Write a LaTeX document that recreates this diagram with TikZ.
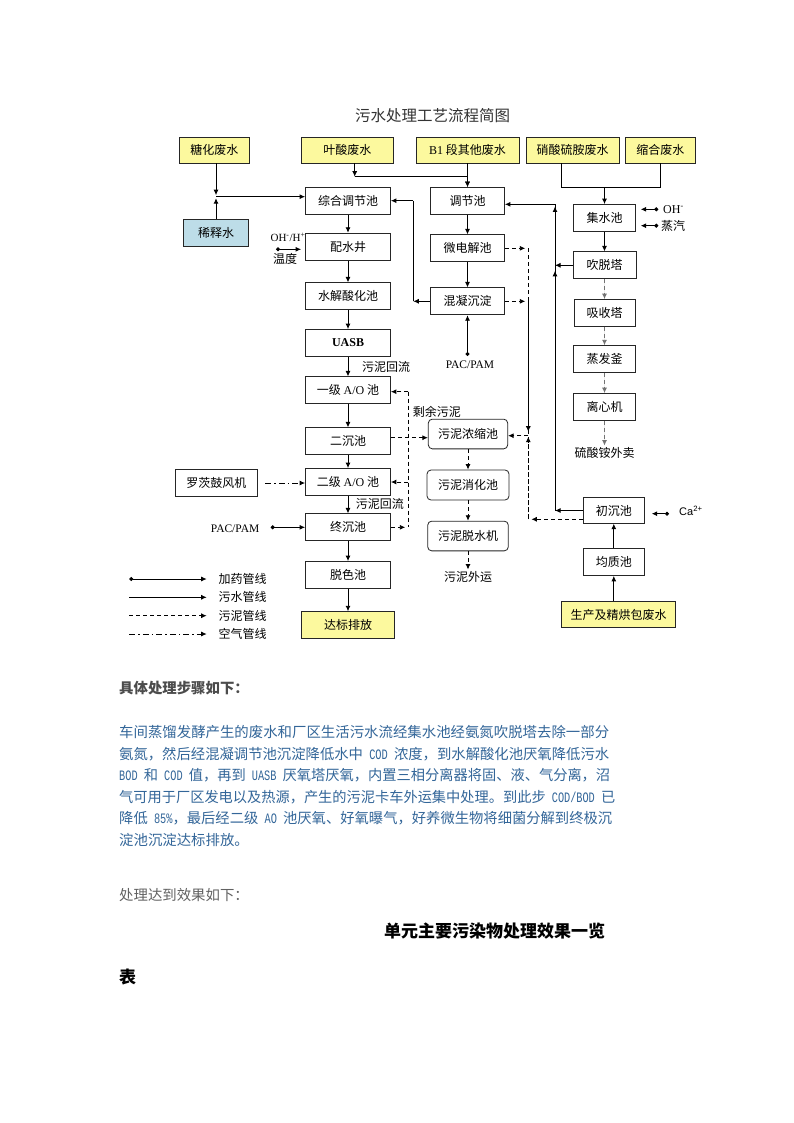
\documentclass[tikz,border=0pt]{standalone}
\usepackage{fontspec}
\usepackage{graphicx}
\setmainfont{Noto Sans CJK SC}
\newfontfamily\tms{Liberation Serif}
\newfontfamily\arl{Liberation Sans}
\newfontfamily\monof{Liberation Mono}
\newcommand{\lt}[1]{\scalebox{0.72}[1]{\monof #1}}
\newcommand{\fitline}[2]{\resizebox{#1}{\height}{#2}}
\usetikzlibrary{arrows.meta}
\definecolor{ylw}{HTML}{FCF99E}
\definecolor{blu}{HTML}{BDDDE8}
\definecolor{para}{HTML}{336699}
\tikzset{
  box/.style={draw=black!85, line width=0.8pt, fill=white, inner sep=0pt, minimum height=27pt, font=\fontsize{12}{12}\selectfont},
  ybox/.style={box, fill=ylw},
  rbox/.style={box, rounded corners=4pt},
  ln/.style={line width=0.9pt},
  dln/.style={ln, dash pattern=on 4pt off 3pt},
  arr/.style={ln, -{Latex[length=5.5pt,width=5pt]}},
  dsh/.style={arr, dash pattern=on 4pt off 3pt},
  gdsh/.style={dsh, draw=black!55, fill=black!55},
  ddt/.style={arr, dash pattern=on 6pt off 3pt on 1.5pt off 3pt},
  dotarr/.style={ln, {Circle[length=4pt]}-{Latex[length=5.5pt,width=5pt]}},
  lbl/.style={inner sep=0pt, font=\fontsize{12}{12}\selectfont},
  ptxt/.style={anchor=west, inner sep=0pt, text=para, font=\fontsize{14.4}{14.4}\selectfont},
}
\begin{document}
\begin{tikzpicture}[x=1pt,y=-1pt]
\useasboundingbox (0,0) rectangle (794,1123);
\fill[white] (0,0) rectangle (794,1123);

% title
\node[inner sep=0pt, text=black!80, font=\fontsize{15.5}{15.5}\selectfont] (title) at (432.5,116) {污水处理工艺流程简图};

% top sources
\node[ybox, minimum width=70pt, minimum height=26pt] (tanghua) at (214.3,150) {糖化废水};
\node[ybox, minimum width=92pt, minimum height=26pt] (yesuan) at (347.3,150) {叶酸废水};
\node[ybox, minimum width=103pt, minimum height=26pt] (b1) at (467.5,150) {{\tms B1} 段其他废水};
\node[ybox, minimum width=93pt, minimum height=26pt] (xiaosuan) at (572.5,150) {硝酸硫胺废水};
\node[ybox, minimum width=70pt, minimum height=26pt] (suohe) at (660.3,150) {缩合废水};
\node[box, fill=blu, minimum width=65.4pt, minimum height=27.7pt] (xishi) at (216,232.8) {稀释水};

% left column
\node[box, minimum width=85pt] (zonghe) at (348,201) {综合调节池};
\node[box, minimum width=85pt] (peishui) at (348,246.7) {配水井};
\node[box, minimum width=85pt] (shuijie) at (348,296.3) {水解酸化池};
\node[box, minimum width=85pt] (uasb) at (348,343) {\tms\bfseries UASB};
\node[box, minimum width=85pt] (ao1) at (348,390.3) {一级 {\tms A/O} 池};
\node[box, minimum width=85pt] (erchen) at (348,441.3) {二沉池};
\node[box, minimum width=85pt] (ao2) at (348,482) {二级 {\tms A/O} 池};
\node[box, minimum width=85pt] (zhongchen) at (348,527.3) {终沉池};
\node[box, minimum width=85pt] (tuose) at (348,575) {脱色池};
\node[ybox, minimum width=93pt, minimum height=26.6pt] (dabiao) at (348,625) {达标排放};

% middle column
\node[box, minimum width=74pt] (tiaojie) at (467.5,201) {调节池};
\node[box, minimum width=74pt] (weidian) at (467.5,248.3) {微电解池};
\node[box, minimum width=74pt] (hunning) at (467.5,301.3) {混凝沉淀};
\node[rbox, minimum width=79.4pt, minimum height=29.7pt] (nongsuo) at (468,434) {污泥浓缩池};
\node[rbox, minimum width=82pt, minimum height=30pt] (xiaohua) at (468,485) {污泥消化池};
\node[rbox, minimum width=80.6pt, minimum height=29.7pt] (tuoshui) at (468,536) {污泥脱水机};
\node[lbl] (waiyun) at (468,577.3) {污泥外运};
\node[lbl, font=\tms\fontsize{11.5}{11.5}\selectfont] (pac1) at (470,365) {PAC/PAM};

% right column
\node[box, minimum width=62.4pt] (jishui) at (604.5,218) {集水池};
\node[box, minimum width=63pt] (chuituo) at (604.5,265.3) {吹脱塔};
\node[box, minimum width=61pt] (xishou) at (604.5,313) {吸收塔};
\node[box, minimum width=62pt] (zhengfa) at (604.5,359.2) {蒸发釜};
\node[box, minimum width=62pt] (lixin) at (604.5,407) {离心机};
\node[lbl] (liusuan) at (604.5,453.3) {硫酸铵外卖};
\node[box, minimum width=61pt, minimum height=25.6pt] (chuchen) at (613.8,510.5) {初沉池};
\node[box, minimum width=61pt] (junzhi) at (613.8,562) {均质池};
\node[ybox, minimum width=113.6pt, minimum height=26pt] (shengchan) at (618.5,614.7) {生产及精烘包废水};

% other side nodes
\node[box, minimum width=82.7pt, minimum height=27.4pt] (luoci) at (216.3,483) {罗茨鼓风机};
\node[lbl, anchor=east, font=\tms\fontsize{11.5}{11.5}\selectfont] (pac2) at (259.5,529) {PAC/PAM};
\node[lbl, font=\tms\fontsize{11}{11}\selectfont] (ohh) at (288,237) {OH\textsuperscript{-}/H\textsuperscript{+}};
\node[lbl] (wendu) at (285,259.3) {温度};
\node[lbl, anchor=west, font=\tms\fontsize{12}{12}\selectfont] (oh) at (663,209.3) {OH\textsuperscript{-}};
\node[lbl, anchor=west] (zhengqi) at (661,225.7) {蒸汽};
\node[lbl, anchor=west, font=\arl\fontsize{11}{11}\selectfont] (ca) at (679,511) {Ca\textsuperscript{2+}};
\node[lbl, anchor=west] (huiliu1) at (362,367.3) {污泥回流};
\node[lbl, anchor=west] (shengyu) at (412.7,411.7) {剩余污泥};
\node[lbl, anchor=west] (huiliu2) at (355.7,504) {污泥回流};

% coordinates
\coordinate (j1) at (216,196.7);
\coordinate (j2) at (354.7,176.7);
\coordinate (j3) at (561.3,187.3);
\coordinate (j4) at (660.3,187.3);
\coordinate (k1) at (413.3,301.3);
\coordinate (k2) at (413.3,200.7);
\coordinate (r1) at (555,510.5);
\coordinate (r2) at (555,265.3);
\coordinate (r3) at (555,204.3);
\coordinate (d1) at (528.3,248.3);
\coordinate (d2) at (528.3,519.3);
\coordinate (d3) at (528.3,435.7);
\coordinate (ey) at (0,437.7);
\coordinate (l1) at (408.3,391.7);
\coordinate (l2) at (408.3,527.3);
\coordinate (pac1dot) at (467.5,356);
\coordinate (pac2dot) at (270.7,527.3);
\coordinate (phdot) at (276,249.3);
\coordinate (ohdot) at (658.3,209.3);
\coordinate (zqdot) at (658.3,225.7);
\coordinate (cadot) at (669,513.7);

% feeds
\draw[arr, shorten >=1.5pt] (tanghua.south -| j1) -- (j1);
\draw[arr, shorten >=1.5pt] (xishi.north -| j1) -- (j1);
\draw[arr] (j1) -- (zonghe.west |- j1);
\draw[arr] (yesuan.south -| j2) -- (j2);
\draw[arr] (j2) -- (j2 -| tiaojie.north) -- (tiaojie.north);
\draw[arr] (b1.south) -- (tiaojie.north);
\draw[ln] (xiaosuan.south -| j3) -- (j3) -- (j4) -- (suohe.south);
\draw[arr] (jishui.north |- j3) -- (jishui.north);

% left chain
\foreach \a/\b in {zonghe/peishui, peishui/shuijie, shuijie/uasb, uasb/ao1, ao1/erchen, erchen/ao2, ao2/zhongchen, zhongchen/tuose, tuose/dabiao}
  \draw[arr] (\a.south) -- (\b.north);

% middle chain
\draw[arr] (tiaojie.south) -- (weidian.north);
\draw[arr] (weidian.south) -- (hunning.north);
\draw[dotarr] (pac1dot) -- (hunning.south);
\draw[arr] (hunning.west) -- (k1);
\draw[ln] (k1) -- (k2);
\draw[arr] (k2) -- (zonghe.east |- k2);

% right chain
\draw[arr] (jishui.south) -- (chuituo.north);
\draw[gdsh] (chuituo.south) -- (xishou.north);
\draw[gdsh] (xishou.south) -- (zhengfa.north);
\draw[gdsh] (zhengfa.south) -- (lixin.north);
\draw[gdsh, shorten >=2pt] (lixin.south) -- (liusuan.north);
\draw[arr] (shengchan.north -| junzhi) -- (junzhi.south);
\draw[arr] (junzhi.north) -- (chuchen.south);
\draw[dotarr, shorten >=7pt] (cadot) -- (chuchen.east |- cadot);
\draw[dotarr, shorten >=4.6pt] (ohdot) -- (jishui.east |- ohdot);
\draw[dotarr, shorten >=4.6pt] (zqdot) -- (jishui.east |- zqdot);
\draw[dotarr, shorten >=4pt] (phdot) -- (peishui.west |- phdot);

% return to 调节池
\draw[arr] (chuchen.west) -- (r1);
\draw[ln] (r1) -- (r3);
\draw[arr] (r1) -- ([yshift=-5.5pt]r2);
\draw[arr] (r2) -- ([yshift=-2.2pt]r3);
\draw[arr] (r3) -- (tiaojie.east |- r3);
\draw[arr] (chuituo.west) -- (r2);

% sludge lines
\draw[dsh, shorten >=3pt] (weidian.east) -- (d1);
\draw[dsh, shorten >=3pt] (hunning.east) -- (hunning.east -| d1);
\draw[dln] (d1) -- (d2);
\draw[dsh] (hunning.east -| d1) -- ([yshift=4pt]d3);
\draw[dsh] (d2) -- ([yshift=-1pt]d3);
\draw[dsh] (d3) -- (nongsuo.east |- d3);
\draw[dsh, shorten >=3pt] (chuchen.west |- d2) -- (d2);
\draw[dsh] (erchen.east |- ey) -- (nongsuo.west |- ey);
\draw[dsh] (nongsuo.south) -- (xiaohua.north);
\draw[dsh] (xiaohua.south) -- (tuoshui.north);
\draw[dsh, shorten >=2pt] (tuoshui.south) -- (waiyun.north);
\draw[dln] (l1) -- (l2);
\draw[dsh] (l1) -- (ao1.east |- l1);
\draw[dsh] (l1 |- ao2.east) -- (ao2.east);
\draw[dsh, shorten >=3pt] (zhongchen.east) -- (l2);

% air and dosing at left
\draw[ddt, shorten <=7.3pt] (luoci.east) -- (luoci.east -| ao2.west);
\draw[dotarr] (pac2dot) -- (zhongchen.west);

% legend
\coordinate (lg1a) at (129.3,579);   \coordinate (lg1b) at (206.7,579);
\coordinate (lg2a) at (129.3,597.3); \coordinate (lg2b) at (206.7,597.3);
\coordinate (lg3a) at (129.3,615.7); \coordinate (lg3b) at (206.7,615.7);
\coordinate (lg4a) at (129.3,634);   \coordinate (lg4b) at (206.7,634);
\draw[dotarr] (lg1a) -- (lg1b);
\draw[arr] (lg2a) -- (lg2b);
\draw[dsh] (lg3a) -- (lg3b);
\draw[ddt] (lg4a) -- (lg4b);
\node[lbl, anchor=west] (lgt1) at (218.3,579) {加药管线};
\node[lbl, anchor=west] (lgt2) at (218.3,597.3) {污水管线};
\node[lbl, anchor=west] (lgt3) at (218.3,615.7) {污泥管线};
\node[lbl, anchor=west] (lgt4) at (218.3,634) {空气管线};

% text below
\node[anchor=west, inner sep=0pt, text=black!70, font=\fontsize{14.4}{14.4}\selectfont\bfseries] (h1) at (119,688.3) {具体处理步骤如下：};
\node[ptxt] (p1) at (119,732) {\fitline{490pt}{车间蒸馏发酵产生的废水和厂区生活污水流经集水池经氨氮吹脱塔去除一部分}};
\node[ptxt] (p2) at (119,753.7) {\fitline{490pt}{氨氮，然后经混凝调节池沉淀降低水中\lt{\ COD\ }浓度，到水解酸化池厌氧降低污水}};
\node[ptxt] (p3) at (119,775.3) {\fitline{491pt}{\lt{BOD\ }和\lt{\ COD\ }值，再到\lt{\ UASB\ }厌氧塔厌氧，内置三相分离器将固、液、气分离，沼}};
\node[ptxt] (p4) at (119,797) {\fitline{496pt}{气可用于厂区发电以及热源，产生的污泥卡车外运集中处理。到此步\lt{\ COD/BOD\ }已}};
\node[ptxt] (p5) at (119,818.6) {\fitline{493pt}{降低\lt{\ 85\%}，最后经二级\lt{\ AO\ }池厌氧、好氧曝气，好养微生物将细菌分解到终极沉}};
\node[ptxt] (p6) at (119,840.3) {淀池沉淀达标排放。};
\node[anchor=west, inner sep=0pt, text=black!62, font=\fontsize{14.4}{14.4}\selectfont] (h2) at (119,895) {处理达到效果如下：};
\node[anchor=west, inner sep=0pt, text=black, font=\fontsize{17}{17}\selectfont\bfseries] (h3) at (384,931) {单元主要污染物处理效果一览};
\node[anchor=west, inner sep=0pt, text=black, font=\fontsize{17}{17}\selectfont\bfseries] (h4) at (119,976.7) {表};
\end{tikzpicture}
\end{document}
